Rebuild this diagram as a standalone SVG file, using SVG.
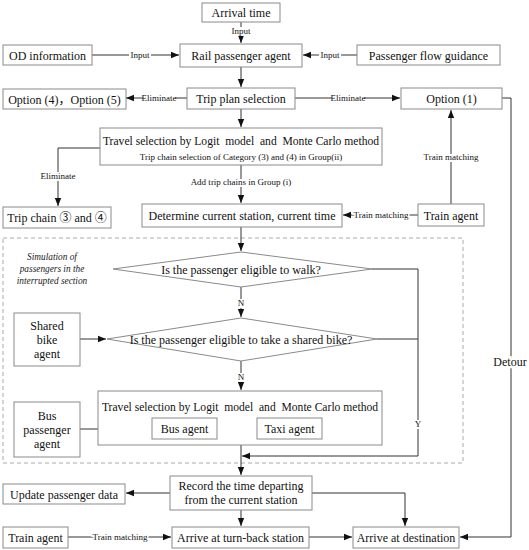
<svg xmlns="http://www.w3.org/2000/svg" width="529" height="550" viewBox="0 0 529 550">
<style>
text{font-family:'Liberation Serif','Times New Roman','DejaVu Serif',serif}
.b{fill:#fff;stroke:#8a8a8a;stroke-width:1}
.t{font-size:12px;fill:#111;text-anchor:middle}
.s{font-size:9px;fill:#111;text-anchor:middle}
.i{font-size:9.3px;font-style:italic;fill:#222;text-anchor:middle}
.c{fill:none;stroke:#333;stroke-width:1}
.lb{fill:#fff;stroke:none}
.cjk{font-family:'Liberation Serif','Noto Sans CJK SC',serif}
.w{font-size:11.6px}
</style>
<defs>
<marker id="a" viewBox="0 0 10 10" refX="10" refY="5" markerWidth="8" markerHeight="8" orient="auto" markerUnits="userSpaceOnUse">
<path d="M0,1 L10,5 L0,9 z" fill="#111"/>
</marker>
</defs>
<rect x="3" y="238" width="460" height="225" fill="none" stroke="#aaa" stroke-dasharray="4,3"/>
<g id="connectors">
<path class="c" d="M241,22 V43" marker-end="url(#a)"/>
<path class="c" d="M92,55 H179" marker-end="url(#a)"/>
<path class="c" d="M357,55 H303" marker-end="url(#a)"/>
<path class="c" d="M241,67 V87" marker-end="url(#a)"/>
<path class="c" d="M187,98 H126" marker-end="url(#a)"/>
<path class="c" d="M295,98 H400" marker-end="url(#a)"/>
<path class="c" d="M241,109 V127" marker-end="url(#a)"/>
<path class="c" d="M100,148 H58 V206" marker-end="url(#a)"/>
<path class="c" d="M241,165 V203" marker-end="url(#a)"/>
<path class="c" d="M418,215 H343" marker-end="url(#a)"/>
<path class="c" d="M451,204 V110" marker-end="url(#a)"/>
<path class="c" d="M502,98 H511 V537 H460" marker-end="url(#a)" stroke="#555" stroke-width="1.3"/>
<path class="c" d="M241,227 V251" marker-end="url(#a)"/>
<path class="c" d="M241,287 V317" marker-end="url(#a)"/>
<path class="c" d="M372,269 H418 V456 H242" marker-end="url(#a)"/>
<path class="c" d="M377,339 H418"/>
<path class="c" d="M80,339 H106" marker-end="url(#a)"/>
<path class="c" d="M241,361 V390" marker-end="url(#a)"/>
<path class="c" d="M80,429 H151" marker-end="url(#a)"/>
<path class="c" d="M241,445 V475" marker-end="url(#a)"/>
<path class="c" d="M170,493 H126" marker-end="url(#a)"/>
<path class="c" d="M312,493 H405 V526" marker-end="url(#a)"/>
<path class="c" d="M241,510 V526" marker-end="url(#a)"/>
<path class="c" d="M68,537 H171" marker-end="url(#a)"/>
<path class="c" d="M309,537 H352" marker-end="url(#a)"/>
<rect class="lb" x="230" y="27" width="22" height="9"/><text class="s" x="241" y="34">Input</text>
<rect class="lb" x="129" y="51" width="22" height="9"/><text class="s" x="140" y="58">Input</text>
<rect class="lb" x="319" y="51" width="22" height="9"/><text class="s" x="330" y="58">Input</text>
<rect class="lb" x="143" y="94" width="32" height="9"/><text class="s" x="159" y="101">Eliminate</text>
<rect class="lb" x="332" y="94" width="32" height="9"/><text class="s" x="348" y="101">Eliminate</text>
<rect class="lb" x="42" y="172" width="32" height="9"/><text class="s" x="58" y="179">Eliminate</text>
<text class="s" x="241" y="185" style="stroke:#fff;stroke-width:4;paint-order:stroke">Add trip chains in Group (i)</text>
<text class="s" x="381" y="218" style="stroke:#fff;stroke-width:3;paint-order:stroke">Train matching</text>
<text class="s" x="451" y="160" style="stroke:#fff;stroke-width:4;paint-order:stroke">Train matching</text>
<text class="t" x="510" y="366" style="stroke:#fff;stroke-width:5;paint-order:stroke">Detour</text>
<rect class="lb" x="237" y="299" width="8" height="9"/><text class="s" x="241" y="306">N</text>
<rect class="lb" x="237" y="373" width="8" height="9"/><text class="s" x="241" y="380">N</text>
<rect class="lb" x="414" y="420" width="8" height="9"/><text class="s" x="418" y="427">Y</text>
<text class="s" x="120" y="540" style="stroke:#fff;stroke-width:3;paint-order:stroke">Train matching</text>
</g>
<g id="arrival"><rect class="b" x="202" y="3" width="78" height="19"/><text class="t" x="241" y="17">Arrival time</text></g>
<g id="rail"><rect class="b" x="180" y="44" width="122" height="23"/><text class="t" x="241" y="60">Rail passenger agent</text></g>
<g id="od"><rect class="b" x="3" y="45" width="89" height="20"/><text class="t" x="47.5" y="59.5">OD information</text></g>
<g id="pfg"><rect class="b" x="357" y="45" width="143" height="20"/><text class="t" x="428.5" y="59.5">Passenger flow guidance</text></g>
<g id="trip"><rect class="b" x="187" y="88" width="108" height="21"/><text class="t" x="241" y="103">Trip plan selection</text></g>
<g id="opt45"><rect class="b" x="3" y="89" width="123" height="20"/><text class="t cjk" x="64.5" y="103.5">Option (4)，Option (5)</text></g>
<g id="opt1"><rect class="b" x="401" y="88" width="101" height="21"/><text class="t" x="451.5" y="103">Option (1)</text></g>
<g id="travel1"><rect class="b" x="100" y="128" width="282" height="37"/><text class="t w" x="241" y="145" xml:space="preserve">Travel selection by Logit  model  and  Monte Carlo method</text><text class="s" x="241" y="160">Trip chain selection of Category (3) and (4) in Group(ii)</text></g>
<g id="tripchain"><rect class="b" x="3" y="207" width="108" height="21"/><text class="t cjk" x="57" y="222">Trip chain ③ and ④</text></g>
<g id="determine"><rect class="b" x="142" y="204" width="200" height="23"/><text class="t" x="242" y="220">Determine current station, current time</text></g>
<g id="train1"><rect class="b" x="418" y="204" width="66" height="22"/><text class="t" x="451" y="219.5">Train agent</text></g>
<g id="sim"><text class="i" x="52" y="260">Simulation of</text><text class="i" x="52" y="272">passengers in the</text><text class="i" x="52" y="284">interrupted section</text></g>
<g id="walk"><polygon class="b" points="241,252 372,269 241,287 113,269"/><text class="t" x="241" y="273.5">Is the passenger eligible to walk?</text></g>
<g id="bike"><polygon class="b" points="241,318 377,339 241,361 107,339"/><text class="t" x="241" y="343.5">Is the passenger eligible to take a shared bike?</text></g>
<g id="shared"><rect class="b" x="14" y="313" width="66" height="53"/><text class="t" x="47" y="330">Shared</text><text class="t" x="47" y="344">bike</text><text class="t" x="47" y="358">agent</text></g>
<g id="travel2"><rect class="b" x="98" y="391" width="284" height="54"/><text class="t w" x="240" y="411" xml:space="preserve">Travel selection by Logit  model  and  Monte Carlo method</text></g>
<g id="bus"><rect class="b" x="152" y="418" width="65" height="21"/><text class="t" x="184.5" y="433">Bus agent</text></g>
<g id="taxi"><rect class="b" x="257" y="418" width="65" height="21"/><text class="t" x="289.5" y="433">Taxi agent</text></g>
<g id="buspass"><rect class="b" x="14" y="402" width="66" height="55"/><text class="t" x="47" y="420">Bus</text><text class="t" x="47" y="434">passenger</text><text class="t" x="47" y="448">agent</text></g>
<g id="record"><rect class="b" x="170" y="476" width="142" height="34"/><text class="t" x="241" y="490">Record the time departing</text><text class="t" x="241" y="504">from the current station</text></g>
<g id="update"><rect class="b" x="3" y="484" width="122" height="20"/><text class="t" x="64" y="498.5">Update passenger data</text></g>
<g id="train2"><rect class="b" x="3" y="527" width="65" height="21"/><text class="t" x="35.5" y="542">Train agent</text></g>
<g id="turnback"><rect class="b" x="172" y="527" width="137" height="21"/><text class="t" x="240.5" y="542">Arrive at turn-back station</text></g>
<g id="dest"><rect class="b" x="353" y="527" width="106" height="21"/><text class="t" x="406" y="542">Arrive at destination</text></g>
</svg>
